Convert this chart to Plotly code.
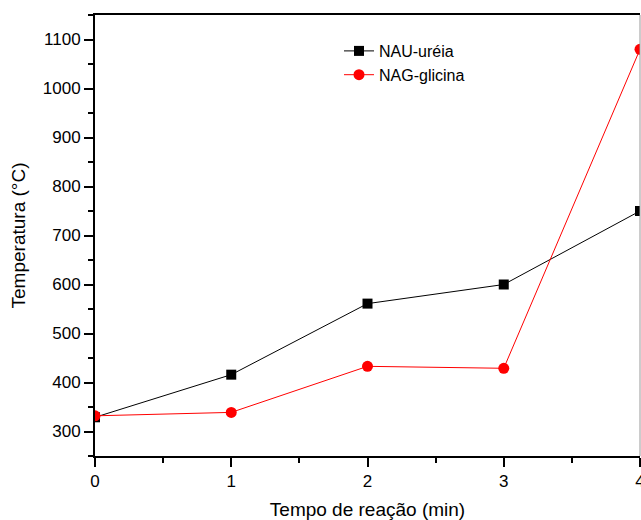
import plotly.graph_objects as go

tempo = [0, 1, 2, 3, 4]
nau_ureia = [329, 416, 561, 600, 750]
nag_glicina = [332, 339, 433, 429, 1080]

x_ticks = [0, 1, 2, 3, 4]
y_ticks = [300, 400, 500, 600, 700, 800, 900, 1000, 1100]

fig = go.Figure()
fig.add_trace(go.Scatter(
    x=tempo, y=nau_ureia, name="NAU-uréia", mode="lines+markers",
    line=dict(color="black", width=1),
    marker=dict(symbol="square", size=10, color="black"),
))
fig.add_trace(go.Scatter(
    x=tempo, y=nag_glicina, name="NAG-glicina", mode="lines+markers",
    line=dict(color="#ff0000", width=1),
    marker=dict(symbol="circle", size=11, color="#ff0000"),
))

font = "Liberation Sans, Arial, sans-serif"
fig.update_layout(
    width=641, height=520,
    margin=dict(l=95, r=1, t=15, b=64, autoexpand=False),
    paper_bgcolor="white", plot_bgcolor="white",
    font=dict(family=font, color="black"),
    showlegend=True,
    legend=dict(x=(339 - 95) / 545, y=(456 - 34) / 441, xanchor="left", yanchor="top",
                bgcolor="rgba(0,0,0,0)", font=dict(size=16), tracegroupgap=0),
    xaxis=dict(
        range=[0, 4], tickvals=x_ticks, ticks="outside", ticklen=9, tickwidth=1.5,
        tickcolor="black", showline=True, linecolor="black", linewidth=2,
        mirror=True, showgrid=False, zeroline=False, ticklabeloverflow="allow",
        minor=dict(dtick=0.5, tick0=0, ticks="outside", ticklen=5, tickwidth=1.5, tickcolor="black"),
        tickfont=dict(size=17),
        title=dict(text="Tempo de reação (min)", font=dict(size=19), standoff=16),
    ),
    yaxis=dict(
        range=[250, 1150], tickvals=y_ticks, ticks="outside", ticklen=9, tickwidth=1.5,
        tickcolor="black", showline=True, linecolor="black", linewidth=2,
        showgrid=False, zeroline=False,
        minor=dict(dtick=50, tick0=250, ticks="outside", ticklen=5, tickwidth=1.5, tickcolor="black"),
        tickfont=dict(size=17),
        title=dict(text="Temperatura (°C)", font=dict(size=19), standoff=12),
    ),
)
fig.add_shape(type="line", xref="paper", yref="paper", x0=1, x1=1, y0=0, y1=1,
              line=dict(color="#999999", width=1))

fig.write_html("out.html", config={"displayModeBar": False},
               post_script="document.body.style.margin='0';document.body.style.overflow='hidden';")
